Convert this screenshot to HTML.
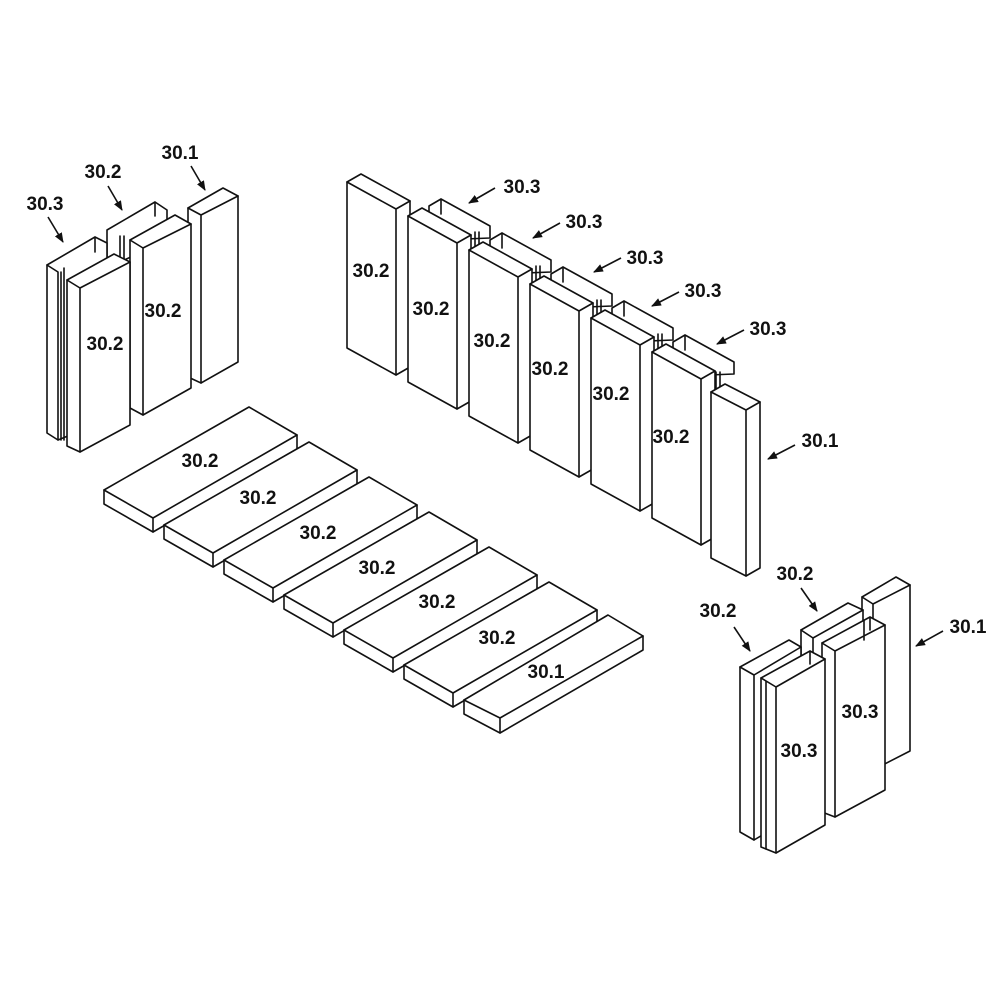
<!DOCTYPE html>
<html><head><meta charset="utf-8"><style>
html,body{margin:0;padding:0;background:#fff}
svg{display:block}
text{font-family:"Liberation Sans",Arial,sans-serif;font-weight:bold;font-size:19px;fill:#111;text-anchor:middle}
.s{fill:#fff;stroke:#111;stroke-width:1.6;stroke-linejoin:round}
.l{fill:none;stroke:#111;stroke-width:1.6;stroke-linejoin:round;stroke-linecap:round}
.a{stroke:#111;stroke-width:1.6;fill:none;marker-end:url(#ah)}
</style></head><body>
<svg width="1000" height="1000" viewBox="0 0 1000 1000" xmlns="http://www.w3.org/2000/svg">
<defs><marker id="ah" markerWidth="10" markerHeight="8" refX="9" refY="4" orient="auto" markerUnits="userSpaceOnUse"><path d="M0,0 L10,4 L0,8 Z" fill="#111"/></marker></defs>

<!-- ===== LEFT GROUP ===== -->
<path class="s" d="M107,262 L107,230 L155,202 L167,210 L167,240 L120,262 Z"/>
<path class="l" d="M155,202 L155,216 M120,236 L120,262 M124,236 L124,262"/>
<path class="s" d="M188,208 L223,188 L238,196 L238,362 L201,383 L188,377 Z"/>
<path class="l" d="M188,208 L201,215 L238,196 M201,215 L201,383"/>
<path class="s" d="M130,240 L175,215 L191,224 L191,388 L143,415 L130,408 Z"/>
<path class="l" d="M130,240 L143,248 L191,224 M143,248 L143,415"/>
<path class="s" d="M47,265 L95,237 L107,243 L107,420 L58,440 L47,433 Z"/>
<path class="l" d="M47,265 L58,272 L58,440 M95,237 L95,252 M61,272 L61,440 M64,268 L64,440"/>
<path class="s" d="M67,280 L114,254 L130,262 L130,425 L80,452 L67,446 Z"/>
<path class="l" d="M67,280 L80,288 L130,262 M80,288 L80,452"/>
<text x="103" y="178">30.2</text>
<text x="45" y="210">30.3</text>
<text x="180" y="159">30.1</text>
<text x="163" y="317">30.2</text>
<text x="105" y="350">30.2</text>
<path class="a" d="M48,217 L63,242"/>
<path class="a" d="M108,186 L122,210"/>
<path class="a" d="M191,166 L205,190"/>

<!-- ===== MIDDLE ROW ===== -->
<g>
<path class="s" d="M429,215 L429,206 L441,199 L490,226 L490,238 L440,240 Z"/>
<path class="l" d="M441,199 L441,214 M475,232 L475,248 M479,232 L479,248"/>
<path class="s" d="M490,249 L490,240 L502,233 L551,260 L551,272 L501,274 Z"/>
<path class="l" d="M502,233 L502,248 M536,266 L536,282 M540,266 L540,282"/>
<path class="s" d="M551,283 L551,274 L563,267 L612,294 L612,306 L562,308 Z"/>
<path class="l" d="M563,267 L563,282 M597,300 L597,316 M601,300 L601,316"/>
<path class="s" d="M612,317 L612,308 L624,301 L673,328 L673,340 L623,342 Z"/>
<path class="l" d="M624,301 L624,316 M658,334 L658,350 M662,334 L662,350"/>
<path class="s" d="M673,351 L673,342 L685,335 L734,362 L734,374 L684,376 Z"/>
<path class="l" d="M685,335 L685,350 M716,372 L716,390 M720,372 L720,390"/>
</g>
<path class="s" d="M347,182 L361,174 L410,201 L410,367 L396,375 L347,348 Z"/><path class="l" d="M347,182 L396,209 L410,201 M396,209 L396,375"/>
<path class="s" d="M408,216 L422,208 L471,235 L471,401 L457,409 L408,382 Z"/><path class="l" d="M408,216 L457,243 L471,235 M457,243 L457,409"/>
<path class="s" d="M469,250 L483,242 L532,269 L532,435 L518,443 L469,416 Z"/><path class="l" d="M469,250 L518,277 L532,269 M518,277 L518,443"/>
<path class="s" d="M530,284 L544,276 L593,303 L593,469 L579,477 L530,450 Z"/><path class="l" d="M530,284 L579,311 L593,303 M579,311 L579,477"/>
<path class="s" d="M591,318 L605,310 L654,337 L654,503 L640,511 L591,484 Z"/><path class="l" d="M591,318 L640,345 L654,337 M640,345 L640,511"/>
<path class="s" d="M652,352 L666,344 L715,371 L715,537 L701,545 L652,518 Z"/><path class="l" d="M652,352 L701,379 L715,371 M701,379 L701,545"/>
<path class="s" d="M711,392 L725,384 L760,402 L760,568 L746,576 L711,558 Z"/><path class="l" d="M711,392 L746,410 L760,402 M746,410 L746,576"/>
<text x="371" y="277">30.2</text>
<text x="431" y="315">30.2</text>
<text x="492" y="347">30.2</text>
<text x="550" y="375">30.2</text>
<text x="611" y="400">30.2</text>
<text x="671" y="443">30.2</text>
<text x="522" y="193">30.3</text>
<text x="584" y="228">30.3</text>
<text x="645" y="264">30.3</text>
<text x="703" y="297">30.3</text>
<text x="768" y="335">30.3</text>
<text x="820" y="447">30.1</text>
<path class="a" d="M495,188 L469,203"/>
<path class="a" d="M560,223 L533,238"/>
<path class="a" d="M621,258 L594,272"/>
<path class="a" d="M679,292 L652,306"/>
<path class="a" d="M744,330 L717,344"/>
<path class="a" d="M795,445 L768,459"/>

<!-- ===== FLAT BOARDS ===== -->
<g>
<path class="s" d="M104,490 L249,407 L297,435 L297,449 L153,532 L104,504 Z"/><path class="l" d="M104,490 L153,518 L297,435 M153,518 L153,532"/>
<path class="s" d="M164,525 L309,442 L357,470 L357,484 L213,567 L164,539 Z"/><path class="l" d="M164,525 L213,553 L357,470 M213,553 L213,567"/>
<path class="s" d="M224,560 L369,477 L417,505 L417,519 L273,602 L224,574 Z"/><path class="l" d="M224,560 L273,588 L417,505 M273,588 L273,602"/>
<path class="s" d="M284,595 L429,512 L477,540 L477,554 L333,637 L284,609 Z"/><path class="l" d="M284,595 L333,623 L477,540 M333,623 L333,637"/>
<path class="s" d="M344,630 L489,547 L537,575 L537,589 L393,672 L344,644 Z"/><path class="l" d="M344,630 L393,658 L537,575 M393,658 L393,672"/>
<path class="s" d="M404,665 L549,582 L597,610 L597,624 L453,707 L404,679 Z"/><path class="l" d="M404,665 L453,693 L597,610 M453,693 L453,707"/>
<path class="s" d="M464,700 L608,615 L643,636 L643,650 L500,733 L464,714 Z"/><path class="l" d="M464,700 L500,718 L643,636 M500,718 L500,733"/>
</g>
<text x="200" y="467">30.2</text>
<text x="258" y="504">30.2</text>
<text x="318" y="539">30.2</text>
<text x="377" y="574">30.2</text>
<text x="437" y="608">30.2</text>
<text x="497" y="644">30.2</text>
<text x="546" y="678">30.1</text>

<!-- ===== BOTTOM RIGHT GROUP ===== -->
<path class="s" d="M862,597 L896,577 L910,585 L910,751 L873,770 L862,764 Z"/>
<path class="l" d="M862,597 L873,604 L910,585 M873,604 L873,770"/>
<path class="s" d="M801,630 L848,603 L863,610 L863,776 L813,804 L801,797 Z"/>
<path class="l" d="M801,630 L813,638 L863,610 M813,638 L813,804"/>
<path class="s" d="M822,643 L870,617 L885,625 L885,790 L835,817 L822,812 Z"/>
<path class="l" d="M822,643 L835,651 L885,625 M835,651 L835,817 M870,617 L870,630 M864,620 L864,640"/>
<path class="s" d="M740,667 L789,640 L801,647 L801,812 L754,840 L740,832 Z"/>
<path class="l" d="M740,667 L754,675 L801,647 M754,675 L754,840"/>
<path class="s" d="M761,678 L810,651 L825,659 L825,825 L776,853 L761,847 Z"/>
<path class="l" d="M761,678 L776,687 L825,659 M776,687 L776,853 M810,651 L810,664 M766,681 L766,849"/>
<text x="860" y="718">30.3</text>
<text x="799" y="757">30.3</text>
<text x="795" y="580">30.2</text>
<text x="718" y="617">30.2</text>
<text x="968" y="633">30.1</text>
<path class="a" d="M801,588 L817,611"/>
<path class="a" d="M734,627 L750,651"/>
<path class="a" d="M943,631 L916,646"/>
</svg>
</body></html>
